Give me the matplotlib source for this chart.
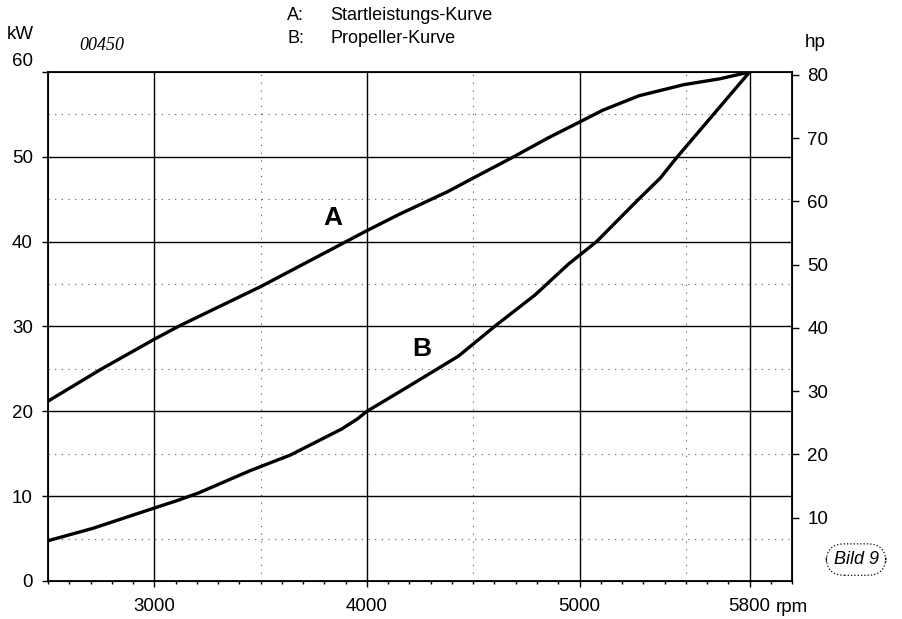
import numpy as np
import matplotlib
matplotlib.use("Agg")
import matplotlib.pyplot as plt
import matplotlib.transforms as mtransforms

plt.rcParams['font.family'] = ['Liberation Sans', 'DejaVu Sans']

# Curve A: Startleistungs-Kurve (kW over rpm)
rpm_a = [2500, 2745, 3000, 3120, 3500, 4000, 4150, 4380, 4500, 4690, 4850,
         5000, 5110, 5280, 5490, 5660, 5800]
kw_a = [21.2, 24.9, 28.5, 30.1, 34.7, 41.3, 43.2, 45.9, 47.5, 50.0, 52.2,
        54.1, 55.5, 57.2, 58.5, 59.2, 60.0]

# Curve B: Propeller-Kurve
rpm_b = [2500, 2710, 3000, 3110, 3210, 3450, 3640, 3770, 3880, 3955, 4000,
         4180, 4430, 4610, 4790, 4950, 5080, 5270, 5380, 5460, 5545, 5630,
         5715, 5800]
kw_b = [4.75, 6.2, 8.6, 9.5, 10.4, 13.0, 14.85, 16.5, 17.9, 19.1, 20.0,
        22.7, 26.5, 30.2, 33.7, 37.4, 40.0, 44.8, 47.5, 50.0, 52.5, 55.0,
        57.5, 60.0]

x_ticks = [3000, 4000, 5000, 5800]
x_dotted = [3500, 4500, 5500]
kw_ticks = [0, 10, 20, 30, 40, 50, 60]
kw_dotted = [5, 15, 25, 35, 45, 55]
hp_ticks = [10, 20, 30, 40, 50, 60, 70, 80]
KW_PER_HP = 0.7457

fig = plt.figure(figsize=(9.03, 6.19), dpi=100)
ax = fig.add_axes([0.0532, 0.0614, 0.824, 0.8223])

# grid
for x in x_ticks:
    ax.axvline(x, color='black', lw=1.0, zorder=1)
for x in x_dotted:
    ax.axvline(x, color='#555555', lw=0.8, ls=(0, (1, 6)), zorder=1)
for y in kw_ticks[1:-1]:
    ax.axhline(y, color='black', lw=1.0, zorder=1)
for y in kw_dotted:
    ax.axhline(y, color='#555555', lw=0.8, ls=(0, (1, 5)), zorder=1)

ax.plot(rpm_a, kw_a, color='black', lw=2.4, zorder=3)
ax.plot(rpm_b, kw_b, color='black', lw=2.4, zorder=3)

ax.set_xlim(2500, 6000)
ax.set_ylim(0, 60)
ax.set_xticks(x_ticks)
ax.set_xticks(np.arange(2500, 6001, 100), minor=True)
ax.set_yticks(kw_ticks)
ax.tick_params(axis='x', which='major', length=4, width=1, labelsize=13.5, pad=8)
ax.tick_params(axis='x', which='minor', length=2.5, width=1)
ax.tick_params(axis='y', length=4, width=1, labelsize=13.5, pad=7)
for s in ax.spines.values():
    s.set_linewidth(1.3)

# raise the top "60" label a little, like the original
lbl = ax.get_yticklabels()[-1]
lbl.set_transform(lbl.get_transform() + mtransforms.ScaledTranslation(0, 0.12, fig.dpi_scale_trans))

ax2 = ax.twinx()
ax2.set_ylim(0, 60 / KW_PER_HP)
ax2.set_yticks(hp_ticks)
ax2.tick_params(axis='y', length=5, width=1, labelsize=13.5, pad=6)

# axis unit labels
fig.text(0.008, 0.944, 'kW', fontsize=13.5, va='center')
fig.text(0.891, 0.932, 'hp', fontsize=13.5, va='center')
fig.text(0.859, 0.019, 'rpm', fontsize=13.5, va='center')
fig.text(0.088, 0.927, '00450', fontsize=13, style='italic',
         family='Liberation Serif', va='center')

# legend text
fig.text(0.318, 0.975, 'A:', fontsize=13, va='center')
fig.text(0.366, 0.975, 'Startleistungs-Kurve', fontsize=13, va='center')
fig.text(0.318, 0.938, 'B:', fontsize=13, va='center')
fig.text(0.366, 0.938, 'Propeller-Kurve', fontsize=13, va='center')

ax.text(3840, 42.8, 'A', fontsize=19, fontweight='bold', ha='center', va='center')
ax.text(4260, 27.4, 'B', fontsize=19, fontweight='bold', ha='center', va='center')

fig.text(0.948, 0.096, 'Bild 9', fontsize=13, style='italic', ha='center', va='center',
         bbox=dict(boxstyle='round,pad=0.4,rounding_size=1.0', fc='white',
                   ec='black', ls=':', lw=0.9))

fig.savefig('out.png', dpi=100)
